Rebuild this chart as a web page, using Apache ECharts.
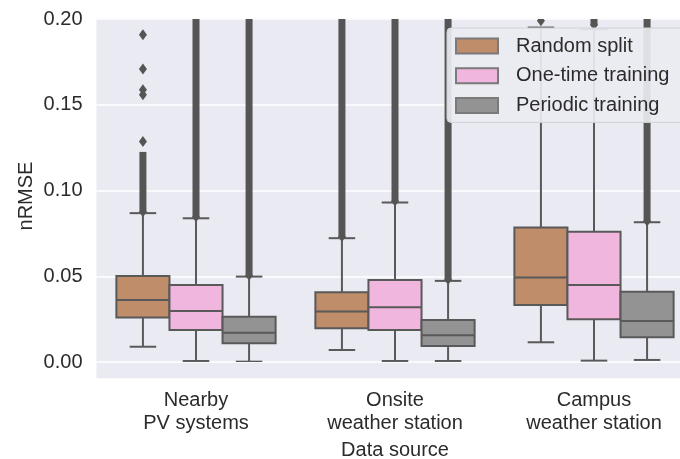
<!DOCTYPE html>
<html>
<head>
<meta charset="utf-8">
<script src="https://cdn.jsdelivr.net/npm/echarts@6/dist/echarts.min.js"></script>
<style>html,body{margin:0;padding:0;background:#fff}#c{width:680px;height:459px}</style>
</head>
<body>
<div id="c"></div>
<script>
const categories = ['Nearby\nPV systems', 'Onsite\nweather station', 'Campus\nweather station'];
const seriesNames = ['Random split', 'One-time training', 'Periodic training'];
const yTicks = [0, 0.05, 0.10, 0.15, 0.20];
// box stats per category: [lower whisker, Q1, median, Q3, upper whisker]
const randomSplitBoxes = [[0.0089, 0.0259, 0.0362, 0.0502, 0.0868], [0.0070, 0.0197, 0.0294, 0.0407, 0.0722], [0.0115, 0.0333, 0.0492, 0.0784, 0.195]];
const oneTimeBoxes = [[0.0006, 0.0187, 0.0298, 0.0449, 0.0838], [0.0006, 0.0187, 0.0319, 0.0478, 0.0930], [0.0008, 0.0249, 0.0449, 0.0760, 0.194]];
const periodicBoxes = [[0.0002, 0.0109, 0.0171, 0.0264, 0.0498], [0.0006, 0.0093, 0.0156, 0.0245, 0.0473], [0.0012, 0.0144, 0.0239, 0.0410, 0.0815]];
// dense outlier columns per category: [from, to] (null = none)
const randomSplitDense = [[0.0875, 0.1225], [0.0730, 0.2], null];
const oneTimeDense = [[0.0845, 0.2], [0.0937, 0.2], [0.1965, 0.2]];
const periodicDense = [[0.0505, 0.2], [0.0480, 0.2], [0.0820, 0.2]];
// isolated outliers per category
const randomSplitOutliers = [[0.1908, 0.1708, 0.1587, 0.1558, 0.1285], [], [0.199]];
const oneTimeOutliers = [[], [], []];
const periodicOutliers = [[], [], []];

const colors = ['#BF8D69', '#F1B6DE', '#939393'];
const edge = '#595959';
const hueOffsets = [-0.2667, 0, 0.2667];
const boxFrac = 0.2667;
const font = "'Liberation Sans', Arial, sans-serif";
const textColor = '#2b2b2b';

const boxSets = [randomSplitBoxes, oneTimeBoxes, periodicBoxes];
const denseSets = [randomSplitDense, oneTimeDense, periodicDense];
const outlierSets = [randomSplitOutliers, oneTimeOutliers, periodicOutliers];

function boxRenderer(h) {
  return function (params, api) {
    const cat = api.value(0);
    const band = api.size([1, 0])[0];
    const cx = api.coord([cat, 0])[0] + hueOffsets[h] * band;
    const w = band * boxFrac;
    const y = i => api.coord([cat, api.value(i)])[1];
    const yMin = y(1), yQ1 = y(2), yMed = y(3), yQ3 = y(4), yMax = y(5);
    const ls = { stroke: edge, lineWidth: 2 };
    return {
      type: 'group',
      children: [
        { type: 'line', shape: { x1: cx, y1: yQ1, x2: cx, y2: yMin }, style: ls },
        { type: 'line', shape: { x1: cx, y1: yQ3, x2: cx, y2: yMax }, style: ls },
        { type: 'line', shape: { x1: cx - w / 4, y1: yMin, x2: cx + w / 4, y2: yMin }, style: ls },
        { type: 'line', shape: { x1: cx - w / 4, y1: yMax, x2: cx + w / 4, y2: yMax }, style: ls },
        { type: 'rect', shape: { x: cx - w / 2, y: yQ3, width: w, height: yQ1 - yQ3 }, style: { fill: colors[h], stroke: edge, lineWidth: 2 } },
        { type: 'line', shape: { x1: cx - w / 2, y1: yMed, x2: cx + w / 2, y2: yMed }, style: ls }
      ]
    };
  };
}
function denseRenderer(h) {
  return function (params, api) {
    const cat = api.value(0);
    const band = api.size([1, 0])[0];
    const cx = api.coord([cat, 0])[0] + hueOffsets[h] * band;
    const y1 = api.coord([cat, api.value(1)])[1];
    const y2 = api.coord([cat, api.value(2)])[1];
    return {
      type: 'group',
      children: [
        { type: 'rect', shape: { x: cx - 3.5, y: y2, width: 7, height: y1 - y2 }, style: { fill: '#555555' } },
        { type: 'polygon', shape: { points: [[cx, y1 + 5], [cx + 4, y1], [cx, y1 - 5], [cx - 4, y1]] }, style: { fill: '#555555' } }
      ]
    };
  };
}
function outlierRenderer(h) {
  return function (params, api) {
    const cat = api.value(0);
    const band = api.size([1, 0])[0];
    const cx = api.coord([cat, 0])[0] + hueOffsets[h] * band;
    const cy = api.coord([cat, api.value(1)])[1];
    return { type: 'polygon', shape: { points: [[cx, cy + 5.5], [cx + 4, cy], [cx, cy - 5.5], [cx - 4, cy]] }, style: { fill: '#555555' } };
  };
}

const series = [];
for (let h = 0; h < 3; h++) {
  series.push({
    name: seriesNames[h], type: 'custom', clip: true, z: 2,
    itemStyle: { color: colors[h], borderColor: '#7a7a7a', borderWidth: 1 },
    encode: { x: 0, y: [1, 2, 3, 4, 5] },
    renderItem: boxRenderer(h),
    data: boxSets[h].map((b, i) => [i].concat(b))
  });
}
for (let h = 0; h < 3; h++) {
  const d = [];
  denseSets[h].forEach((r, i) => { if (r) d.push([i, r[0], r[1]]); });
  series.push({ type: 'custom', clip: true, z: 3, encode: { x: 0, y: [1, 2] }, renderItem: denseRenderer(h), data: d });
  const o = [];
  outlierSets[h].forEach((arr, i) => arr.forEach(v => o.push([i, v])));
  series.push({ type: 'custom', clip: true, z: 3, encode: { x: 0, y: 1 }, renderItem: outlierRenderer(h), data: o });
}

const chart = echarts.init(document.getElementById('c'), null, { renderer: 'canvas' });
chart.setOption({
  animation: false,
  backgroundColor: '#ffffff',
  graphic: [
    { type: 'rect', z: -10, silent: true, shape: { x: 96.5, y: 18.3, width: 600, height: 360 }, style: { fill: '#EAEAF2' } },
    { type: 'text', silent: true, x: 26, y: 196, rotation: Math.PI / 2, style: { text: 'nRMSE', font: "20px 'Liberation Sans', Arial, sans-serif", fill: textColor, align: 'center', verticalAlign: 'middle' } }
  ],
  grid: { left: 96.5, top: 19, width: 597, height: 343, outerBoundsMode: 'none', containLabel: false },
  legend: {
    data: seriesNames, orient: 'vertical', left: 447, top: 28, z: 20,
    icon: 'rect', itemWidth: 42, itemHeight: 15, itemGap: 9.7,
    padding: [8, 40, 7, 8],
    backgroundColor: 'rgba(234,234,242,0.92)', borderColor: '#d2d2d8', borderWidth: 1, borderRadius: 4,
    textStyle: { fontFamily: font, fontSize: 20, color: textColor, lineHeight: 20, padding: [0, 0, 0, 13] }
  },
  xAxis: {
    type: 'category', data: categories,
    axisLine: { show: false }, axisTick: { show: false }, splitLine: { show: false },
    axisLabel: { fontFamily: font, fontSize: 20, color: textColor, lineHeight: 23, margin: 27, interval: 0 },
    name: 'Data source', nameLocation: 'middle', nameGap: 78,
    nameTextStyle: { fontFamily: font, fontSize: 20, color: textColor }
  },
  yAxis: {
    type: 'value', min: yTicks[0], max: yTicks[yTicks.length - 1], interval: 0.05,
    axisLine: { show: false }, axisTick: { show: false },
    splitLine: { show: true, lineStyle: { color: '#ffffff', width: 1.5 } },
    axisLabel: { fontFamily: font, fontSize: 20, color: textColor, margin: 14, formatter: v => v.toFixed(2) }
  },
  series: series
});
</script>
</body>
</html>
